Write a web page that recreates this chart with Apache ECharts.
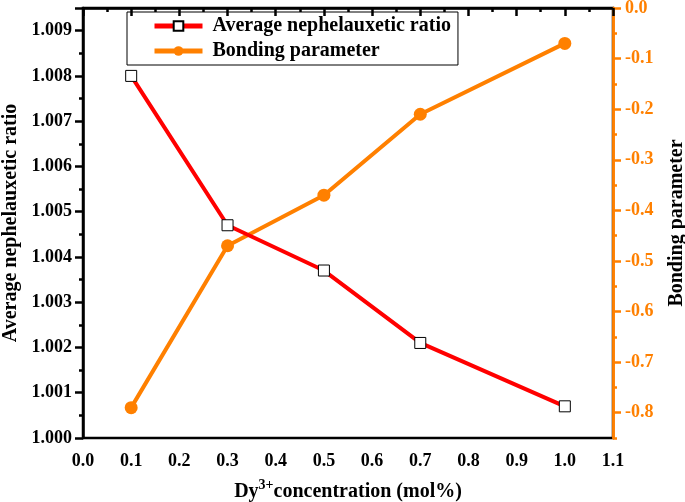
<!DOCTYPE html>
<html>
<head>
<meta charset="utf-8">
<script src="https://cdn.jsdelivr.net/npm/echarts@6/dist/echarts.min.js"></script>
<style>html,body{margin:0;padding:0;background:#fff;}#c{width:685px;height:502px;}</style>
</head>
<body>
<div id="c"></div>
<script>
var concentration = [0.1, 0.3, 0.5, 0.7, 1.0];
var nephelauxeticRatio = [1.0080, 1.0047, 1.0037, 1.0021, 1.0007];
var bondingParameter = [-0.79, -0.47, -0.37, -0.21, -0.07];
var bondingTicks = [-0.8, -0.7, -0.6, -0.5, -0.4, -0.3, -0.2, -0.1, 0.0];

var RED = '#ff0000', ORANGE = '#ff8000';
var FONT = '"Liberation Serif", "Times New Roman", serif';
var chart = echarts.init(document.getElementById('c'));

function pairs(xs, ys) { return xs.map(function (x, i) { return [x, ys[i]]; }); }
var tickLabel = { fontFamily: FONT, fontWeight: 'bold', fontSize: 18 };

chart.setOption({
  backgroundColor: '#fff',
  animation: false,
  grid: { left: 83, right: 72, top: 8, bottom: 64, outerBoundsMode: 'none', containLabel: false,
    show: true, borderColor: '#000', borderWidth: 2.5, backgroundColor: 'transparent' },
  legend: {
    orient: 'vertical', left: 127, top: 12,
    padding: [4, 7, 4, 25],
    itemWidth: 48, itemHeight: 12, itemGap: 5,
    borderColor: '#000', borderWidth: 1,
    lineStyle: { width: 5 },
    textStyle: { fontFamily: FONT, fontWeight: 'bold', fontSize: 20, color: '#000', padding: [0, 0, 0, 5] },
    data: ['Average nephelauxetic ratio', 'Bonding parameter']
  },
  xAxis: {
    type: 'value', min: 0, max: 1.1, interval: 0.1,
    name: '{a|Dy}{s|3+}{a|concentration (mol%)}',
    nameLocation: 'middle', nameGap: 40,
    nameTextStyle: {
      rich: {
        a: { fontFamily: FONT, fontWeight: 'bold', fontSize: 20, color: '#000' },
        s: { fontFamily: FONT, fontWeight: 'bold', fontSize: 14, color: '#000', padding: [0, 0, 13, 0] }
      }
    },
    axisLine: { lineStyle: { color: '#000', width: 2.5 } },
    axisTick: { length: 8, lineStyle: { width: 2.5, color: '#000' } },
    minorTick: { show: true, splitNumber: 2, length: 4, lineStyle: { width: 2.5, color: '#000' } },
    splitLine: { show: false },
    axisLabel: Object.assign({ color: '#000', margin: 14,
      formatter: function (v) { return v.toFixed(1); } }, tickLabel)
  },
  yAxis: [{
    type: 'value', min: 1.0, max: 1.0095, interval: 0.001,
    name: 'Average nephelauxetic ratio', nameLocation: 'middle', nameGap: 58,
    nameTextStyle: { fontFamily: FONT, fontWeight: 'bold', fontSize: 20, color: '#000' },
    axisLine: { show: true, lineStyle: { color: '#000', width: 2.5 } },
    axisTick: { length: 8, lineStyle: { width: 2.5, color: '#000' } },
    minorTick: { show: true, splitNumber: 2, length: 4, lineStyle: { width: 2.5, color: '#000' } },
    splitLine: { show: false },
    axisLabel: Object.assign({ color: '#000', margin: 11, showMaxLabel: false,
      formatter: function (v) { return v.toFixed(3); } }, tickLabel)
  }, {
    type: 'value', min: -0.85, max: 0, interval: 0.05, position: 'right',
    axisLine: { show: true, lineStyle: { color: ORANGE, width: 2.5 } },
    axisTick: { length: 4, lineStyle: { width: 2.5, color: ORANGE } },
    splitLine: { show: false },
    axisLabel: { show: false }
  }, {
    type: 'value', min: -0.85, max: 0, position: 'right',
    name: 'Bonding parameter', nameLocation: 'middle', nameGap: 54, nameRotate: 90,
    nameTextStyle: { fontFamily: FONT, fontWeight: 'bold', fontSize: 20, color: '#000' },
    axisLine: { show: true, lineStyle: { color: ORANGE, width: 2.5 } },
    axisTick: { length: 8, customValues: bondingTicks, lineStyle: { width: 2.5, color: ORANGE } },
    splitLine: { show: false },
    axisLabel: Object.assign({ color: ORANGE, margin: 12, customValues: bondingTicks,
      formatter: function (v) { return v.toFixed(1); } }, tickLabel)
  }],
  series: [{
    name: 'Average nephelauxetic ratio', type: 'line', yAxisIndex: 0,
    data: pairs(concentration, nephelauxeticRatio),
    lineStyle: { color: RED, width: 4 },
    symbol: 'rect', symbolSize: 11,
    itemStyle: { color: '#fff', borderColor: '#000', borderWidth: 1 },
    z: 3
  }, {
    name: 'Bonding parameter', type: 'line', yAxisIndex: 1,
    data: pairs(concentration, bondingParameter),
    lineStyle: { color: ORANGE, width: 4 },
    symbol: 'circle', symbolSize: 13,
    itemStyle: { color: ORANGE, borderColor: ORANGE, borderWidth: 0 },
    z: 2
  }]
});
</script>
</body>
</html>
